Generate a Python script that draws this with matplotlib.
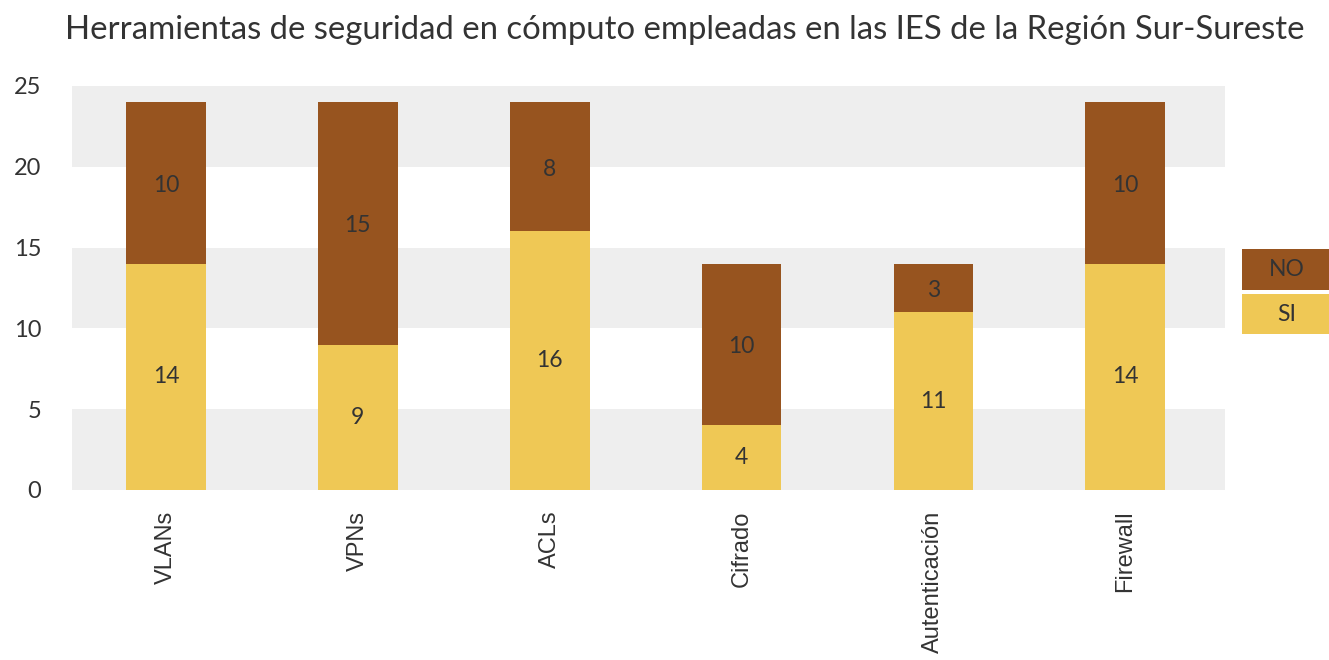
import matplotlib
matplotlib.use("Agg")
import matplotlib.pyplot as plt
from matplotlib.patches import Rectangle

categories = ["VLANs", "VPNs", "ACLs", "Cifrado", "Autenticación", "Firewall"]
si_values = [14, 9, 16, 4, 11, 14]
no_values = [10, 15, 8, 10, 3, 10]
yticks = [0, 5, 10, 15, 20, 25]
title = "Herramientas de seguridad en cómputo empleadas en las IES de la Región Sur-Sureste"

c_no = "#97541f"
c_si = "#efc855"
c_band = "#eeeeee"
c_text = "#333333"

fig = plt.figure(figsize=(13.29, 6.6), dpi=100)
ax = fig.add_axes([72/1329, 1-490/660, (1225-72)/1329, (490-86)/660])

for lo in (0, 10, 20):
    ax.axhspan(lo, lo + 5, color=c_band, zorder=0, lw=0)

x = list(range(len(categories)))
w = 0.415
ax.bar(x, si_values, width=w, color=c_si, zorder=2, lw=0)
ax.bar(x, no_values, width=w, bottom=si_values, color=c_no, zorder=2, lw=0)

for i in x:
    ax.text(i, si_values[i] / 2, str(si_values[i]), ha="center", va="center",
            fontsize=16.5, family="Lato", color=c_text, zorder=3)
    ax.text(i, si_values[i] + no_values[i] / 2 - 0.15, str(no_values[i]), ha="center", va="center",
            fontsize=16.5, family="Lato", color=c_text, zorder=3)

ax.set_xlim(-0.49, 5.52)
ax.set_ylim(0, 25)
ax.set_yticks(yticks)
ax.set_yticklabels([str(v) for v in yticks], fontsize=17, family="Lato", color=c_text)
ax.set_xticks(x)
ax.set_xticklabels(categories, rotation=90, fontsize=17, family="Liberation Sans", color=c_text)
ax.tick_params(axis="y", length=0, pad=22)
ax.tick_params(axis="x", length=0, pad=15)
for s in ax.spines.values():
    s.set_visible(False)

fig.text(65/1329, 1-30/660, title, ha="left", va="center", fontsize=23.7,
         family="Lato", color=c_text)

# legend boxes
for (label, col, y0, y1) in [("NO", c_no, 249, 290), ("SI", c_si, 294, 334)]:
    r = Rectangle((1242/1329, 1-y1/660), (1329-1242)/1329, (y1-y0)/660,
                  transform=fig.transFigure, facecolor=col, edgecolor="none")
    fig.add_artist(r)
    fig.text((1242+1332)/2/1329, 1-(y0+y1)/2/660, label, ha="center", va="center",
             fontsize=16.5, family="Lato", color=c_text)

fig.savefig("out.png", dpi=100)
